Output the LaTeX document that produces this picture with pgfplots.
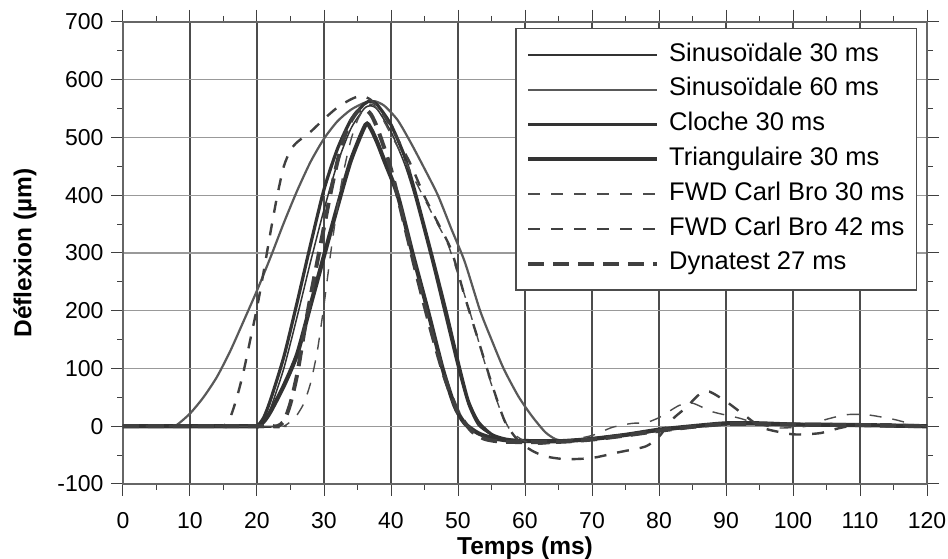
\documentclass[border=0pt]{standalone}
\usepackage{fontspec}
\setmainfont{Liberation Sans}
\usepackage{pgfplots}
\pgfplotsset{compat=1.18}
\begin{document}
\begin{tikzpicture}
\begin{axis}[
  scale only axis, width=804bp, height=462bp,
  xmin=0, xmax=120, ymin=-100, ymax=700,
  xtick={0,10,...,120}, ytick={-100,0,...,700},
  minor xtick={5,15,...,115}, minor ytick={-50,50,...,650},
  tick align=outside, major tick length=12bp, minor tick length=6bp,
  tick style={black!75, line width=1bp},
  xmajorgrids, ymajorgrids,
  x grid style={black!70, line width=1.1bp},
  y grid style={black!40, line width=1.3bp},
  axis line style={black!60, line width=1.2bp},
  /pgf/number format/assume math mode=true,
  tick label style={font=\fontsize{23bp}{26bp}\selectfont},
  xticklabel style={yshift=-13bp},
  yticklabel style={xshift=-4bp},
  xlabel={Temps (ms)}, ylabel={Déflexion (µm)},
  every axis x label/.style={at={(rel axis cs:0.5,-0.1385)}, anchor=center, font=\bfseries\fontsize{24.5bp}{28bp}\selectfont},
  every axis y label/.style={at={(rel axis cs:-0.1219,0.5)}, rotate=90, anchor=center, font=\bfseries\fontsize{24.5bp}{28bp}\selectfont},
  legend style={at={(rel axis cs:0.9876,0.987)}, anchor=north east,
    draw=black!70, line width=1.2bp, fill=white,
    font=\fontsize{25.5bp}{28bp}\selectfont,
    inner xsep=10bp, inner ysep=12bp, row sep=6.3bp, column sep=8bp,
    nodes={text height=17.5bp, text depth=5bp, inner ysep=3bp, inner xsep=2bp}},
  legend cell align=left,
  legend image code/.code={\draw[#1] (0bp,0bp) -- (129bp,0bp);},
]
\coordinate (ll) at (rel axis cs:0,0);
\coordinate (ur) at (rel axis cs:1,1);

% Sinusoidale 30 ms
\addplot[black!80, line width=1.5bp, smooth, tension=0.4] coordinates {
(0,0)(19,0)(20,0)(21,8)(22,30)(24,100)(26,190)(28,285)(30,375)(32,455)(34,515)(36,550)(37,555)(38,548)(40,510)(42,455)(43.5,400)(46,290)(48,195)(50,100)(51.5,38)(53,2)(55,-15)(57,-22)(60,-25)(65,-25)(70,-21)(75,-14)(80,-6)(85,0)(90,4)(95,4)(100,3)(110,2)(120,0)};
\addlegendentry{Sinusoïdale 30 ms}

% Sinusoidale 60 ms
\addplot[black!65, line width=2.2bp, smooth, tension=0.4] coordinates {
(0,0)(6,0)(7,0)(8,2)(10,22)(12,50)(14,85)(16,130)(18,182)(20,235)(22,292)(24,352)(26,408)(28,458)(30,498)(32,528)(34,548)(36,560)(37.5,563)(39,555)(41,530)(43,490)(45,446)(47,400)(49,342)(51,285)(53.3,200)(55,150)(56.8,100)(59,52)(61,18)(63,-10)(64.5,-22)(66,-25)(70,-21)(75,-14)(80,-6)(85,0)(90,4)(95,4)(100,3)(110,1)(120,0)};
\addlegendentry{Sinusoïdale 60 ms}

% Cloche 30 ms
\addplot[black!80, line width=3.2bp, smooth, tension=0.4] coordinates {
(0,0)(19,0)(20,0)(21,15)(22,45)(24,120)(26,215)(28,315)(30,410)(32,480)(34,530)(36,558)(37,563)(38,556)(40,522)(42,468)(43.5,410)(45.9,305)(48.2,200)(50,112)(51.5,45)(53,8)(55,-14)(57,-22)(60,-26)(65,-26)(70,-22)(75,-15)(80,-7)(85,-1)(90,4)(95,4)(100,3)(110,2)(120,0)};
\addlegendentry{Cloche 30 ms}

% Triangulaire 30 ms
\addplot[black!80, line width=4.2bp, smooth, tension=0.4] coordinates {
(0,0)(19,0)(20,0)(21,8)(22,25)(24,70)(26,125)(28,210)(30,295)(32,380)(34,460)(36.2,522)(37,515)(38,490)(39,460)(41,400)(43.2,300)(45.5,200)(47.7,100)(49.5,35)(51,5)(53,-12)(55,-20)(58,-25)(65,-26)(70,-22)(75,-15)(80,-6)(85,0)(90,5)(95,5)(100,3)(110,2)(120,0)};
\addlegendentry{Triangulaire 30 ms}

% FWD Carl Bro 30 ms
\addplot[black!70, line width=1.4bp, dash pattern=on 12bp off 11bp, smooth, tension=0.4] coordinates {
(0,0)(23,0)(24,0)(25,8)(26,20)(27,40)(28,75)(29,130)(30,210)(31,300)(32,380)(33,445)(34,495)(35,530)(36,550)(37,558)(38,548)(40,505)(42,462)(44.5,405)(46.5,360)(48.5,315)(50.5,245)(52.5,170)(54.5,90)(56.5,22)(58,-10)(60,-26)(62,-31)(65,-28)(70,-16)(73,-2)(76,5)(78,6)(80,15)(83,36)(85,40)(88,25)(92,14)(95,3)(98,-3)(102,0)(105,12)(108,20)(111,20)(115,12)(118,3)(120,0)};
\addlegendentry{FWD Carl Bro 30 ms}

% FWD Carl Bro 42 ms
\addplot[black!75, line width=2.4bp, dash pattern=on 12bp off 11bp, smooth, tension=0.4] coordinates {
(0,0)(14,0)(15,0)(16,15)(17,50)(18,95)(19,150)(20,205)(21,268)(22,335)(23,398)(24,450)(25,478)(26,492)(28,510)(30,532)(32,552)(34,566)(35.5,572)(37,565)(39,537)(41,497)(43,452)(45,398)(47,352)(49,305)(51,225)(53,150)(55,75)(57,8)(59,-25)(61,-42)(63,-52)(66,-57)(70,-55)(74,-45)(78,-35)(80,-18)(82,12)(84,32)(86,55)(87.5,60)(90,43)(93,17)(95.5,-3)(100,-14)(104,-12)(107,-3)(110,3)(115,3)(120,0)};
\addlegendentry{FWD Carl Bro 42 ms}

% Dynatest 27 ms
\addplot[black!75, line width=4bp, dash pattern=on 16bp off 9bp, smooth, tension=0.4] coordinates {
(0,0)(22,0)(23,0)(24,8)(25,40)(26,90)(27,160)(28,225)(29,285)(30,345)(31,405)(32,458)(33,500)(34,528)(35,545)(36,550)(37,540)(38,515)(40,445)(42,350)(44,255)(46,165)(48,85)(50,25)(52,-8)(54,-22)(57,-27)(65,-27)(70,-23)(75,-16)(80,-8)(85,-1)(90,4)(95,4)(100,3)(110,2)(120,0)};
\addlegendentry{Dynatest 27 ms}
\end{axis}
\pgfresetboundingbox
\useasboundingbox ([shift={(-123bp,-75bp)}]ll) rectangle ([shift={(21bp,22bp)}]ur);
\end{tikzpicture}
\end{document}
